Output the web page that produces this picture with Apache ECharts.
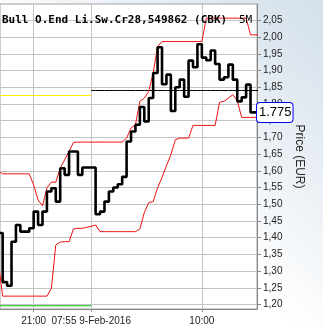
<!DOCTYPE html>
<html><head><meta charset="utf-8">
<script src="https://cdn.jsdelivr.net/npm/echarts@6/dist/echarts.min.js"></script>
<style>html,body{margin:0;padding:0;background:#fff}#c{width:323px;height:328px}</style>
</head><body><div id="c"></div>
<script>
// 5-minute bars (8-Feb evening, 9-Feb morning)
const times = ['20:20','20:25','20:30','20:35','20:40','20:45','20:50','20:55','21:00','21:05',
  '21:10','21:15','21:20','21:25','21:30','21:35','21:40','21:45','21:50','21:55',
  '22:00','07:55','08:00','08:05','08:10','08:15','08:20','08:25','08:30','08:35',
  '08:40','08:45','08:50','08:55','09:00','09:05','09:10','09:15','09:20','09:25',
  '09:30','09:35','09:40','09:45','09:50','09:55','10:00','10:05','10:10','10:15',
  '10:20','10:25','10:30','10:35','10:40','10:45','10:50','10:55','11:00','11:05'];
const tickIdx = [8, 21, 46];
const tickLabels = ['21:00', '07:55 9-Feb-2016', '10:00'];
const yTicks = [1.20,1.25,1.30,1.35,1.40,1.45,1.50,1.55,1.60,1.65,1.70,1.75,1.80,1.85,1.90,1.95,2.00,2.05];

const price = [1.414,1.267,1.256,1.388,1.438,1.418,1.418,1.428,1.478,1.438,
  1.478,1.538,1.548,1.508,1.608,1.588,1.658,1.658,1.588,1.610,
  1.610,1.610,1.470,1.478,1.508,1.538,1.550,1.560,1.582,1.688,
  1.718,1.738,1.791,1.748,1.818,1.893,1.970,1.859,1.888,1.779,
  1.850,1.873,1.822,1.930,1.910,1.979,1.939,1.931,1.960,1.920,
  1.873,1.880,1.918,1.873,1.808,1.820,1.858,1.775,1.775,1.775];
const upperBand = [1.600,1.591,1.591,1.591,1.591,1.591,1.591,1.591,1.558,1.513,
  1.495,1.549,1.566,1.566,1.608,1.633,1.658,1.685,1.686,1.686,
  1.686,1.686,1.686,1.686,1.686,1.686,1.686,1.686,1.686,1.698,
  1.728,1.738,1.808,1.818,1.838,1.893,1.972,1.987,1.987,1.987,
  1.987,1.987,1.987,1.987,1.987,1.987,1.987,2.057,2.057,2.057,
  2.057,2.057,2.057,2.057,2.057,2.057,2.057,2.007,2.007,2.007];
const lowerBand = [1.330,1.225,1.225,1.225,1.225,1.225,1.225,1.225,1.225,1.225,
  1.225,1.225,1.248,1.378,1.387,1.388,1.388,1.426,1.428,1.428,
  1.431,1.434,1.438,1.418,1.418,1.418,1.418,1.418,1.418,1.418,
  1.418,1.418,1.426,1.475,1.505,1.508,1.549,1.580,1.615,1.648,
  1.693,1.698,1.698,1.698,1.736,1.736,1.736,1.736,1.736,1.736,
  1.805,1.808,1.818,1.828,1.810,1.760,1.760,1.760,1.760,1.760];
const prevDayRef = 1.8255;   // yellow, previous session
const dayRef = 1.8405;       // black reference, current session
const floorLevel = 1.1962;   // green, previous session
const sessionStart = 21;
const lastPrice = 1.775;
const titleText = 'Bull O.End Li.Sw.Cr28,549862 (CBK)';
const periodText = '5M';

const xy = arr => arr.map((v, i) => [i, v]);
const span = (v, from, to) => times.map((t, i) => [i, v]).filter(p => p[0] >= from && p[0] <= to);

const chart = echarts.init(document.getElementById('c'), null, {renderer: 'canvas'});
const gridCol = '#c4c4c4';
const lab = {color: '#222', fontSize: 10, fontFamily: 'Liberation Sans'};
chart.setOption({
  animation: false,
  backgroundColor: {type: 'linear', x: 1, y: 0, x2: 0, y2: 1,
    colorStops: [{offset: 0, color: '#d3dfea'}, {offset: 0.55, color: '#ffffff'}]},
  title: [
    {text: titleText, left: 2, top: 14, padding: 0,
     textStyle: {fontFamily: 'DejaVu Sans Mono', fontWeight: 'bold', fontSize: 11, color: '#000', lineHeight: 12}},
    {text: periodText, left: 239, top: 14, padding: 0,
     textStyle: {fontFamily: 'DejaVu Sans Mono', fontWeight: 'normal', fontSize: 11, color: '#000', lineHeight: 12}}
  ],
  grid: {left: -1, right: 66, top: 4, bottom: 19, show: true, backgroundColor: '#fff',
         borderColor: '#a0a0a0', borderWidth: 1},
  xAxis: {
    type: 'value', min: 0.399, max: 58.46,
    axisLine: {show: true, lineStyle: {color: '#888'}},
    axisTick: {show: true, length: 3, customValues: tickIdx, lineStyle: {color: '#888'}},
    axisLabel: Object.assign({customValues: tickIdx, margin: 7,
      formatter: v => tickLabels[tickIdx.indexOf(Math.round(v))] || ''}, lab),
    splitLine: {show: true, lineStyle: {color: gridCol}}
  },
  yAxis: {
    type: 'value', position: 'right', min: 1.1865, max: 2.0994,
    name: 'Price (EUR)', nameLocation: 'middle', nameRotate: -90, nameGap: 35,
    nameTextStyle: {color: '#222', fontSize: 12, fontFamily: 'Liberation Sans'},
    axisLine: {show: true, lineStyle: {color: '#888'}},
    axisTick: {show: true, length: 4, customValues: yTicks, lineStyle: {color: '#888'}},
    axisLabel: Object.assign({customValues: yTicks, margin: 6,
      formatter: v => v.toFixed(2).replace('.', ',')}, lab),
    splitLine: {show: true, lineStyle: {color: gridCol}},
    axisPointer: {
      show: true, type: 'line', value: lastPrice, status: 'show', snap: false, triggerTooltip: false,
      lineStyle: {color: 'rgba(0,0,0,0)', width: 0},
      label: {show: true, formatter: () => lastPrice.toFixed(3), backgroundColor: '#fff',
        borderColor: '#0000ee', borderWidth: 1, color: '#000', fontSize: 13,
        fontFamily: 'Liberation Sans', padding: [3, 1, 3, 2], margin: 0}
    }
  },
  series: [
    {type: 'line', data: span(floorLevel, 0, sessionStart), symbol: 'none', silent: true,
     lineStyle: {color: '#00c000', width: 1}},
    {type: 'line', data: span(prevDayRef, 0, sessionStart), symbol: 'none', silent: true,
     lineStyle: {color: '#ffee00', width: 1}},
    {type: 'line', data: span(dayRef, sessionStart, times.length - 1), symbol: 'none', silent: true,
     lineStyle: {color: '#000', width: 1}},
    {type: 'line', data: xy(upperBand), symbol: 'none', silent: true,
     lineStyle: {color: '#f01010', width: 1}},
    {type: 'line', data: xy(lowerBand), symbol: 'none', silent: true,
     lineStyle: {color: '#f01010', width: 1}},
    {type: 'line', data: xy(price), step: 'end', symbol: 'none', silent: true,
     lineStyle: {color: '#000', width: 2.6}}
  ]
});
</script></body></html>
